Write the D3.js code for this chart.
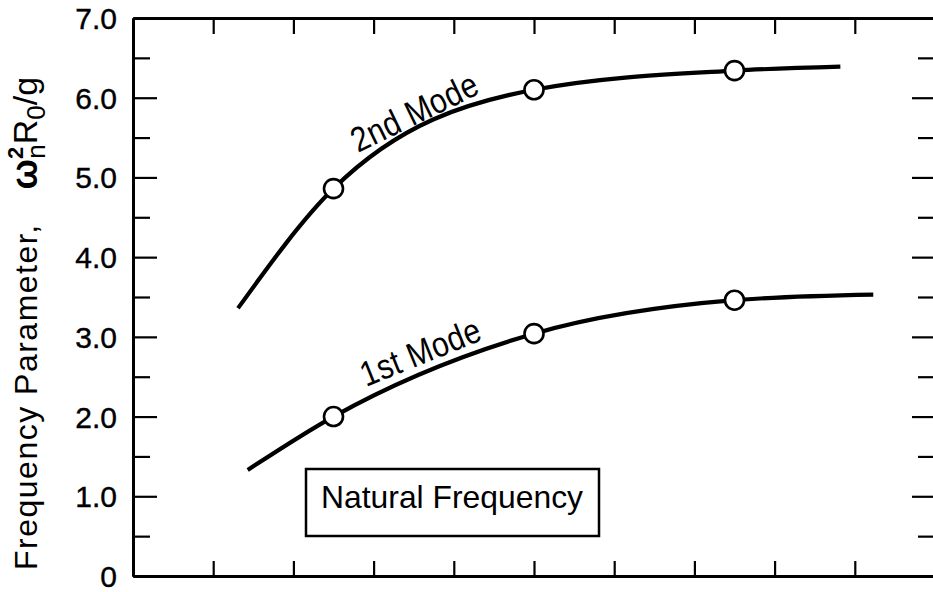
<!DOCTYPE html>
<html>
<head>
<meta charset="utf-8">
<script src="https://cdn.jsdelivr.net/npm/d3@7"></script>
<style>
  html, body { margin: 0; padding: 0; background: #fff; }
  svg { display: block; }
  text { font-family: "Liberation Sans", Arial, sans-serif; fill: #000; }
</style>
</head>
<body>
<svg id="chart" width="933" height="592"></svg>
<script>
// Natural frequency parameter for the first two modes
const xTicks = [1, 2, 3, 4, 5, 6, 7, 8, 9, 10];
const yMajor = [0, 1, 2, 3, 4, 5, 6, 7];
const yMajorLabels = ["0", "1.0", "2.0", "3.0", "4.0", "5.0", "6.0", "7.0"];
const yMinor = [0.5, 1.5, 2.5, 3.5, 4.5, 5.5, 6.5];

// faired curves (start, data points, end)
const mode2Curve = [[1.31, 3.36], [2.5, 4.86], [5.0, 6.10], [7.5, 6.34], [8.82, 6.39]];
const mode1Curve = [[1.43, 1.33], [2.5, 2.00], [5.0, 3.04], [7.5, 3.46], [9.23, 3.53]];

// measured points
const pointX = [2.5, 5.0, 7.5];
const mode2Values = [4.86, 6.10, 6.34];
const mode1Values = [2.00, 3.04, 3.46];

const svg = d3.select("#chart");
const x = d3.scaleLinear().domain([0, 10]).range([133, 935]);
const y = d3.scaleLinear().domain([0, 7]).range([576, 18]);

// left axis: labelled majors, inward ticks
const leftAxis = svg.append("g").attr("transform", `translate(${x(0)},0)`)
  .call(d3.axisLeft(y).tickValues(yMajor).tickSizeInner(-24).tickSizeOuter(0).tickPadding(16)
    .tickFormat((d, i) => yMajorLabels[i]));
leftAxis.append("g").call(d3.axisLeft(y).tickValues(yMinor).tickSizeInner(-17).tickSizeOuter(0).tickFormat(""));

// right axis ticks
const rightAxis = svg.append("g").attr("transform", `translate(${x(10)},0)`)
  .call(d3.axisRight(y).tickValues(yMajor).tickSizeInner(-23).tickSizeOuter(0).tickFormat(""));
rightAxis.append("g").call(d3.axisRight(y).tickValues(yMinor).tickSizeInner(-17).tickSizeOuter(0).tickFormat(""));

// bottom and top ticks
svg.append("g").attr("transform", `translate(0,${y(0)})`)
  .call(d3.axisBottom(x).tickValues(xTicks).tickSizeInner(-15).tickSizeOuter(0).tickFormat(""));
svg.append("g").attr("transform", `translate(0,${y(7)})`)
  .call(d3.axisTop(x).tickValues(xTicks).tickSizeInner(-16).tickSizeOuter(0).tickFormat(""));

svg.selectAll(".domain").attr("stroke", "#000").attr("stroke-width", 3);
svg.selectAll(".tick line").attr("stroke", "#000").attr("stroke-width", 2.2);
leftAxis.selectAll(".tick text")
  .attr("font-size", 30)
  .attr("font-family", "\"Liberation Sans\", Arial, sans-serif")
  .attr("fill", "#000")
  .attr("stroke", "#000").attr("stroke-width", 0.4)
  .attr("dy", "0.35em");

// curves
const line = d3.line().x(d => x(d[0])).y(d => y(d[1])).curve(d3.curveMonotoneX);
svg.append("path").datum(mode2Curve).attr("d", line)
  .attr("fill", "none").attr("stroke", "#000").attr("stroke-width", 4.2);
svg.append("path").datum(mode1Curve).attr("d", line)
  .attr("fill", "none").attr("stroke", "#000").attr("stroke-width", 4.2);

// data points
[mode2Values, mode1Values].forEach(vals => {
  svg.append("g").selectAll("circle").data(vals).join("circle")
    .attr("cx", (d, i) => x(pointX[i]))
    .attr("cy", d => y(d))
    .attr("r", 9.5)
    .attr("fill", "#fff")
    .attr("stroke", "#000")
    .attr("stroke-width", 2.6);
});

// curve labels (condensed lettering)
svg.append("text").text("2nd Mode")
  .attr("transform", "translate(358,153) rotate(-26) scale(0.86,1)")
  .attr("font-size", 35).attr("letter-spacing", 0.5);
svg.append("text").text("1st Mode")
  .attr("transform", "translate(366,387) rotate(-22) scale(0.86,1)")
  .attr("font-size", 35).attr("letter-spacing", 0.5);

// legend box
svg.append("rect")
  .attr("x", 306).attr("y", 469).attr("width", 293).attr("height", 67)
  .attr("fill", "#fff").attr("stroke", "#000").attr("stroke-width", 2.5);
svg.append("text").text("Natural Frequency")
  .attr("x", 452).attr("y", 508).attr("text-anchor", "middle")
  .attr("font-size", 32).attr("textLength", 262).attr("lengthAdjust", "spacingAndGlyphs");

// y-axis title
const title = svg.append("text")
  .attr("transform", "translate(37,570) rotate(-90)")
  .attr("font-size", 32);
title.append("tspan").text("Frequency Parameter,").attr("letter-spacing", 1.5);
title.append("tspan").text("\u03c9").attr("dx", 34).attr("font-weight", "bold").attr("font-size", 36);
title.append("tspan").text("2").attr("font-size", 22).attr("dy", -14).attr("font-weight", "bold");
title.append("tspan").text("n").attr("font-size", 26).attr("dx", -12).attr("dy", 22);
title.append("tspan").text("R").attr("font-size", 34).attr("dy", -8);
title.append("tspan").text("0").attr("font-size", 26).attr("dy", 8);
title.append("tspan").text("/g").attr("font-size", 34).attr("dy", -8);
</script>
</body>
</html>
